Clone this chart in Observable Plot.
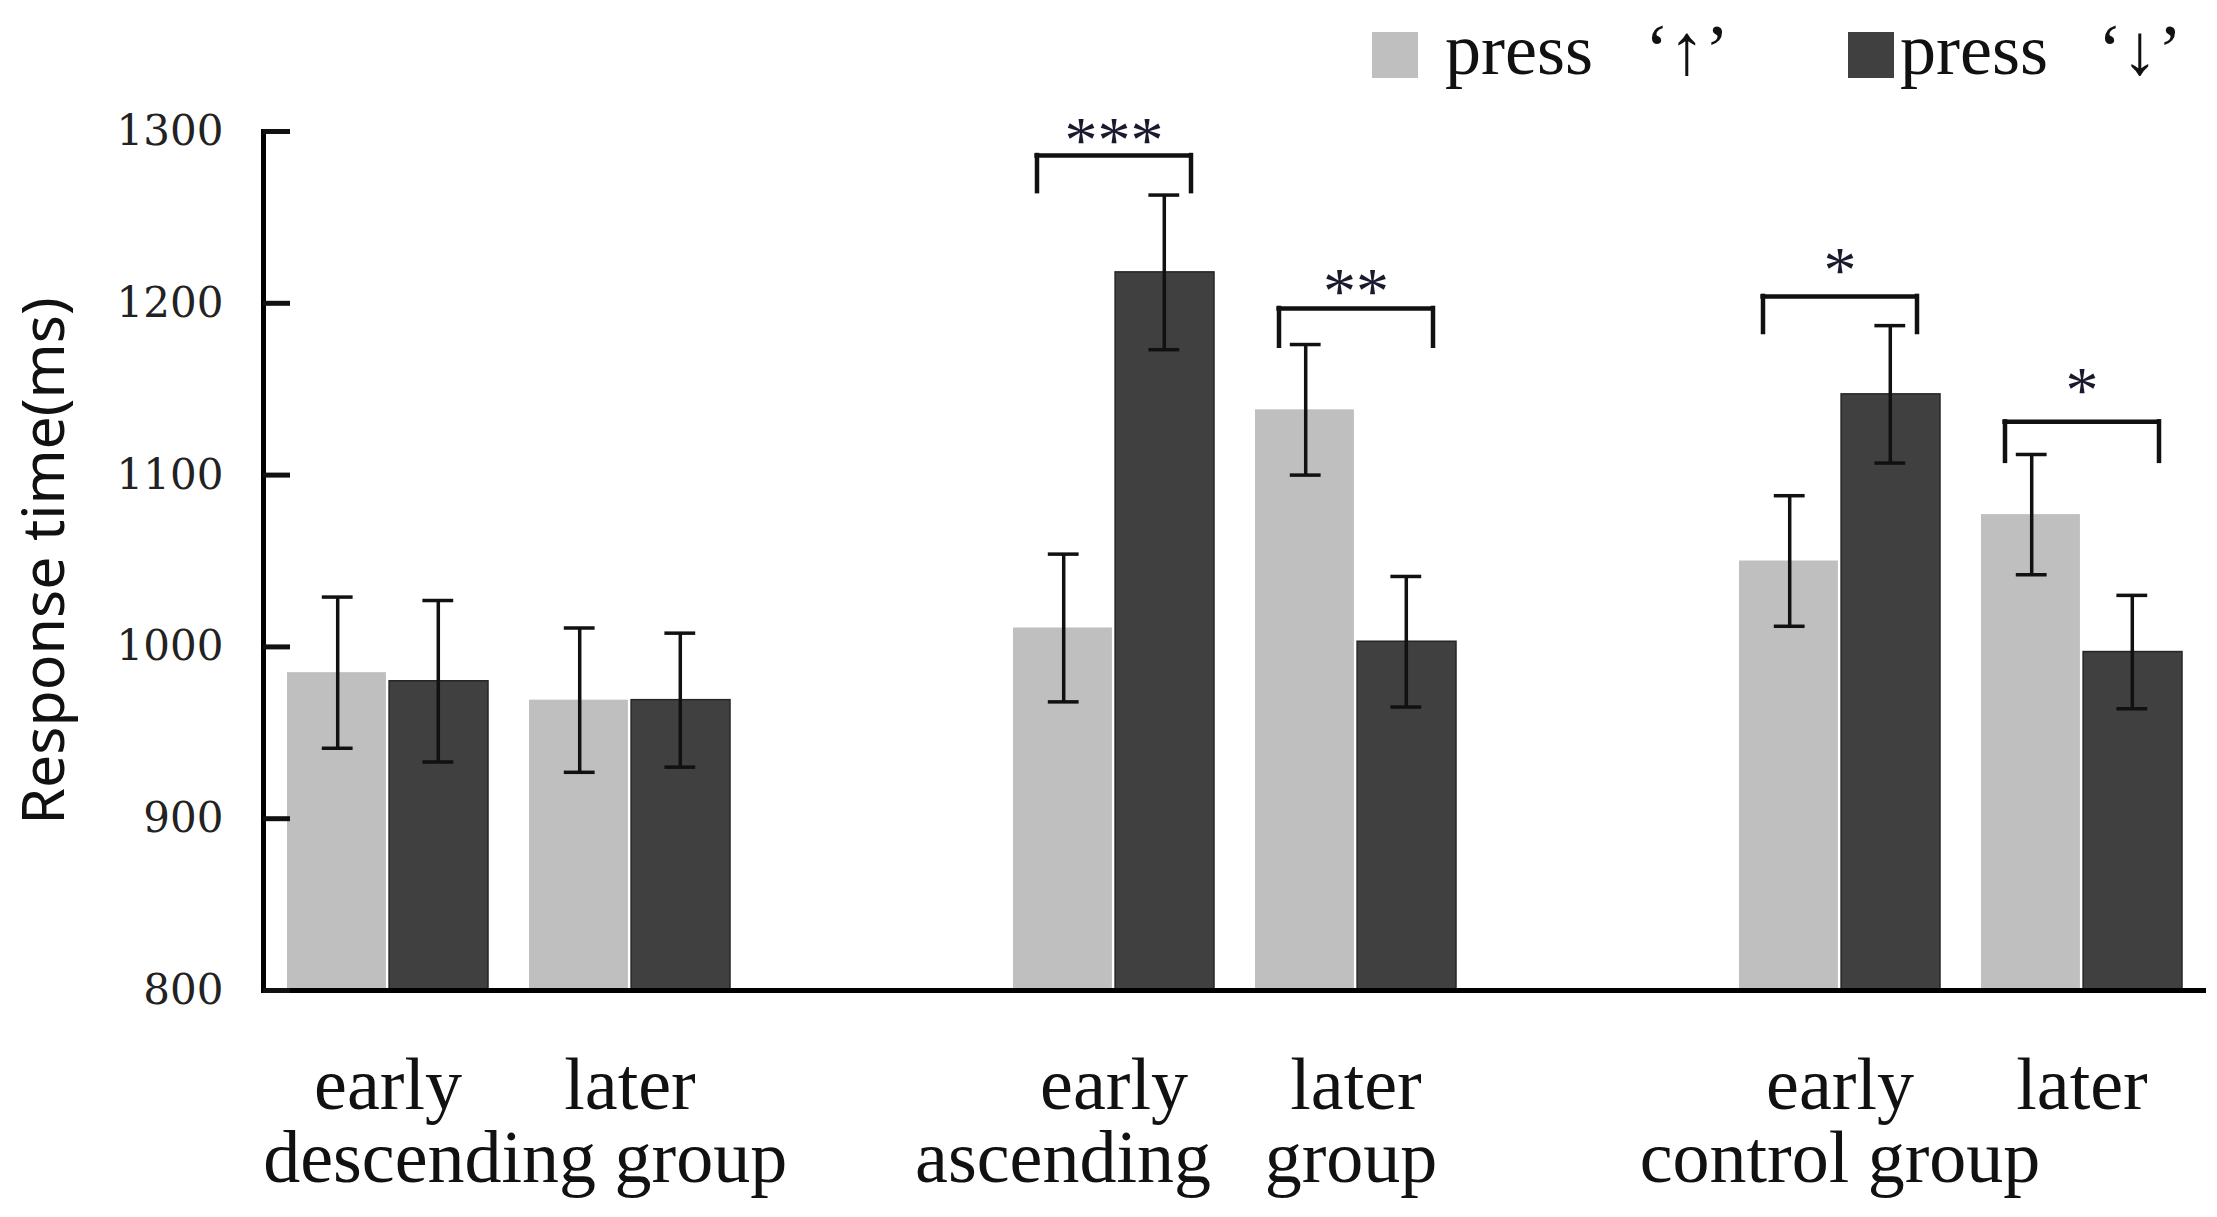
<!DOCTYPE html>
<html><head><meta charset="utf-8">
<script src="https://cdn.jsdelivr.net/npm/d3@7"></script>
<script src="https://cdn.jsdelivr.net/npm/@observablehq/plot@0.6"></script>
<style>
html,body{margin:0;padding:0;background:#fff;}
#wrap{position:relative;width:2217px;height:1217px;overflow:hidden;background:#fff;}
#wrap svg{position:absolute;left:0;top:0;}
.sw{position:absolute;}
.lt{position:absolute;font-family:"Liberation Serif",serif;font-size:72px;line-height:72px;color:#111;white-space:pre;}
</style></head><body><div id="wrap"></div>
<script>
// ---- data ----
const groups = ["descending", "ascending", "control"];
const conditions = ["early", "later"];
const seriesNames = ["press", "press"];
const seriesKeys = ["‘↑’", "‘↓’"];
const upMeans = [985, 969, 1011, 1138, 1050, 1077];
const upErrors = [44, 42, 43, 38, 38, 35];
const downMeans = [980, 969, 1218, 1003, 1147, 997];
const downErrors = [47, 39, 45, 38, 40, 33];
const yTicks = [800, 900, 1000, 1100, 1200, 1300];
const sigLabels = ["", "", "***", "**", "*", "*"];
const bracketTop = [null, null, 1286, 1197, 1204, 1131];
const bracketBottom = [null, null, 1265, 1175, 1183, 1108];
const starCenter = [null, null, 1300, 1212, 1224, 1154];
const groupLabels = [["descending group"], ["ascending", "group"], ["control group"]];
const yTitle = "Response time(ms)";
const colors = ["#bfbfbf", "#404040"];

// ---- layout ----
const W = 2217, H = 1217, mL = 263, mR = 11, mT = 131, mB = 227;
const yMin = yTicks[0], yMax = yTicks[yTicks.length - 1];
const xDomain = [];
groups.forEach((g, i) => { if (i > 0) xDomain.push("gap" + i); conditions.forEach(c => xDomain.push(g + "|" + c)); });
const pIn = 0.17, pOut = 0.093;
const band = d3.scaleBand().domain(xDomain).range([mL, W - mR]).paddingInner(pIn).paddingOuter(pOut);
const bw = band.bandwidth(), step = band.step();
const half = bw / 2, q = bw / 4, gap = 1.5, cap = 15.5, bh = 77;

const rows = [];
const sigs = [];
const condLabels = [];
const grpLabels = [];
groups.forEach((g, gi) => {
  conditions.forEach((c, ci) => {
    const i = gi * conditions.length + ci;
    const key = g + "|" + c;
    rows.push({key, series: 0, mean: upMeans[i], err: upErrors[i]});
    rows.push({key, series: 1, mean: downMeans[i], err: downErrors[i]});
    condLabels.push({key, text: c});
    if (sigLabels[i]) sigs.push({key, label: sigLabels[i], top: bracketTop[i], bottom: bracketBottom[i], star: starCenter[i]});
  });
  const lines = groupLabels[gi];
  if (lines.length === 1) {
    grpLabels.push({key: g + "|" + conditions[0], text: lines[0], shift: gi === 0 ? step / 2 + 16 : 0});
  } else {
    lines.forEach((t, li) => grpLabels.push({key: g + "|" + conditions[li], text: t, shift: li === 0 ? -51 : -5}));
  }
});
const up = rows.filter(d => d.series === 0);
const down = rows.filter(d => d.series === 1);
const serif = "Liberation Serif";
const lbl = {frameAnchor: "bottom", lineAnchor: "bottom", fontSize: 74, fontFamily: serif, fill: "#111"};

const chart = Plot.plot({
  width: W, height: H,
  marginLeft: mL, marginRight: mR, marginTop: mT, marginBottom: mB,
  style: {background: "transparent", overflow: "visible", color: "#111"},
  x: {type: "band", domain: xDomain, paddingInner: pIn, paddingOuter: pOut, axis: null},
  y: {domain: [yMin, yMax], axis: null},
  marks: [
    Plot.barY(up, {x: "key", y1: yMin, y2: "mean", fill: colors[0], insetRight: half + gap}),
    Plot.barY(down, {x: "key", y1: yMin, y2: "mean", fill: colors[1], stroke: "#262626", strokeWidth: 1.5, insetLeft: half + gap}),
    // error bars
    Plot.ruleX(up, {x: "key", y1: d => d.mean - d.err, y2: d => d.mean + d.err, dx: -q, stroke: "#111", strokeWidth: 3.5}),
    Plot.ruleX(down, {x: "key", y1: d => d.mean - d.err, y2: d => d.mean + d.err, dx: q, stroke: "#111", strokeWidth: 3.5}),
    Plot.tickY(up, {x: "key", y: d => d.mean - d.err, insetLeft: q - cap, insetRight: 3 * q - cap, stroke: "#111", strokeWidth: 3.5}),
    Plot.tickY(up, {x: "key", y: d => d.mean + d.err, insetLeft: q - cap, insetRight: 3 * q - cap, stroke: "#111", strokeWidth: 3.5}),
    Plot.tickY(down, {x: "key", y: d => d.mean - d.err, insetLeft: 3 * q - cap, insetRight: q - cap, stroke: "#111", strokeWidth: 3.5}),
    Plot.tickY(down, {x: "key", y: d => d.mean + d.err, insetLeft: 3 * q - cap, insetRight: q - cap, stroke: "#111", strokeWidth: 3.5}),
    // significance brackets
    Plot.tickY(sigs, {x: "key", y: "top", insetLeft: half - bh, insetRight: half - bh, stroke: "#111", strokeWidth: 4.5, strokeLinecap: "square"}),
    Plot.ruleX(sigs, {x: "key", y1: "bottom", y2: "top", dx: -bh, stroke: "#111", strokeWidth: 4.5, strokeLinecap: "square"}),
    Plot.ruleX(sigs, {x: "key", y1: "bottom", y2: "top", dx: bh, stroke: "#111", strokeWidth: 4.5, strokeLinecap: "square"}),
    Plot.text(sigs, {x: "key", y: "star", text: "label", lineAnchor: "bottom", dy: 30, fontSize: 66, fontFamily: serif, fill: "#1a1a2e"}),
    // axes
    Plot.ruleY([yMin], {stroke: "#000", strokeWidth: 5}),
    Plot.frame({anchor: "left", stroke: "#000", strokeWidth: 5}),
    Plot.axisY({ticks: yTicks, tickFormat: d3.format("d"), tickSize: -27, tickPadding: 67, strokeWidth: 5, fontSize: 42, fontFamily: "DejaVu Serif", label: null, fill: "#222"}),
    Plot.text([yTitle], {text: d => d, frameAnchor: "left", rotate: -90, dx: -218, textAnchor: "middle", lineAnchor: "middle", fontSize: 59, fontFamily: "Noto Sans", fill: "#111"}),
    // category labels
    Plot.text(condLabels, {x: "key", text: "text", dy: 118, ...lbl}),
    Plot.text(grpLabels.filter(d => d.shift > 50), {x: "key", text: "text", dy: 191, dx: step / 2 + 16, ...lbl}),
    Plot.text(grpLabels.filter(d => d.shift === -51), {x: "key", text: "text", dy: 191, dx: -51, ...lbl}),
    Plot.text(grpLabels.filter(d => d.shift === -5), {x: "key", text: "text", dy: 191, dx: -5, ...lbl}),
    Plot.text(grpLabels.filter(d => d.shift === 0), {x: "key", text: "text", dy: 191, ...lbl})
  ]
});
const wrap = document.getElementById("wrap");
wrap.appendChild(chart);

// ---- legend (HTML, above the plot area) ----
const legendItems = [
  {sw: 1372, press: 1445, key: 1645},
  {sw: 1848, press: 1900, key: 2098}
];
legendItems.forEach((p, i) => {
  const s = document.createElement("div");
  s.className = "sw";
  Object.assign(s.style, {left: p.sw + "px", top: "32px", width: "46px", height: "46px", background: colors[i]});
  wrap.appendChild(s);
  const t1 = document.createElement("div");
  t1.className = "lt"; t1.textContent = seriesNames[i];
  Object.assign(t1.style, {left: p.press + "px", top: "14px"});
  wrap.appendChild(t1);
  const t2 = document.createElement("div");
  t2.className = "lt"; t2.textContent = seriesKeys[i];
  Object.assign(t2.style, {left: p.key + "px", top: "14px"});
  wrap.appendChild(t2);
});
</script></body></html>
